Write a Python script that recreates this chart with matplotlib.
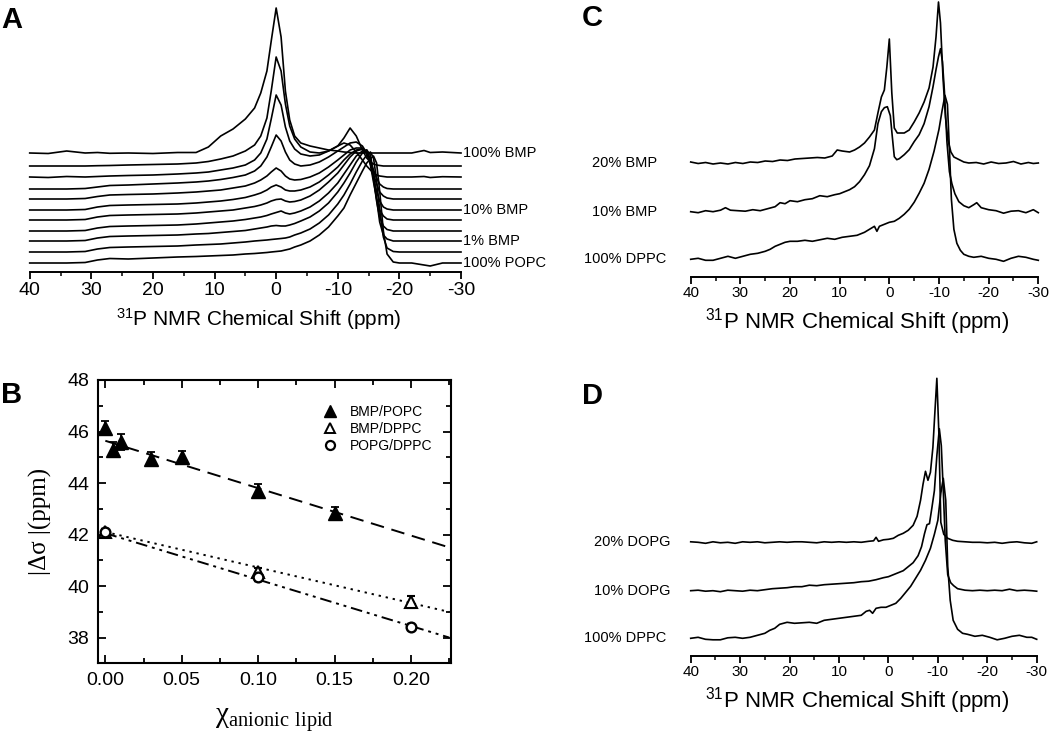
import numpy as np
import matplotlib.pyplot as plt
import matplotlib.transforms as mtransforms
from matplotlib.ticker import MultipleLocator, FormatStrFormatter
from matplotlib.lines import Line2D

plt.rcParams['font.family'] = ['Liberation Sans', 'DejaVu Sans']
plt.rcParams['axes.unicode_minus'] = False

# ---------------- Panel A: BMP/POPC spectra (height above own baseline) ----------------
a_ppm = [40, 37, 34, 31, 29, 27, 24, 20, 16, 13,
         11, 9, 7, 5, 3.5, 2.5, 1.5, 0.8, 0, -0.8,
         -1.5, -2.2, -3, -4, -5.5, -7, -8.5, -10, -11, -12,
         -13, -14, -14.7, -15.3, -15.8, -16.3, -16.8, -17.4, -18, -19,
         -20, -22, -24, -25, -27, -30]

a_bmp100 = [0, -0.5, 2, 0, 0.5, -0.3, 0, -0.5, 0.5, 0.5,
            6, 17, 24, 34, 45, 60, 82, 112, 145, 116,
            62, 33, 17, 10, 7, 5, 3, 2, 1, 0.5,
            0, 0, 0, 0, 0, 0, 0, 0, 0, 0,
            0, 0, 2.5, 0.5, 1, 0]
a_t1 = [0, 0, 0, 0, 0.3, 0.5, 1, 1.5, 2, 3,
        4.5, 7, 10, 15, 21, 30, 48, 75, 109, 95,
        62, 40, 27, 19, 14, 13, 15, 20, 28, 38,
        30, 16, 8, 4, 2, 1, 0.5, 0, 0, 0,
        0, 0, 0, 0, 0, 0]
a_t2 = [0, -0.5, 0.5, 0, 0.5, 1, 1.5, 2, 3, 4,
        5, 7, 9, 12, 17, 24, 38, 58, 82, 72,
        50, 36, 28, 23, 21, 22, 26, 31, 34, 32,
        25, 17, 11, 7, 4, 2, 1, 0.5, 0, 0,
        0, 0, 0.5, -0.5, 0.3, 0]
a_t3 = [0, 0, 0, 0.5, 2, 3.5, 4, 5, 6, 7,
        8, 9.5, 11.5, 14, 18, 23, 32, 42, 54, 48,
        37, 29, 25, 23, 24, 27, 32, 38, 42, 46,
        47, 43, 36, 27, 19, 11, 5, 2, 0.5, 0,
        0, 0, 0, 0, 0, 0]
a_t4 = [0, 0, 0, 0.5, 2.5, 4, 4.5, 5, 6, 7,
        8, 9, 11, 13, 16, 19, 23, 27, 31, 28,
        23, 20, 19, 19.5, 22, 26, 32, 39, 44, 49,
        51, 51, 46, 36, 25, 15, 7, 3, 1, 0,
        0, 0, 0, 0, 0, 0]
a_bmp10 = [0, 0, 0, 0.5, 3, 4.5, 5, 5.5, 6, 7,
           8, 9, 10.5, 12.5, 15, 17, 20, 23, 25, 23,
           20, 19, 19, 20, 23, 28, 35, 43, 50, 56,
           60, 61, 58, 46, 32, 19, 9, 3, 1, 0,
           0, 0, 0, 0, 0, 0]
a_t6 = [0, 0, 0, 0.5, 3, 4.5, 5, 5.5, 6, 7,
        8, 9, 10, 12, 13.5, 15, 17, 19, 20.5, 21,
        19, 18, 18.5, 20, 24, 30, 38, 47, 55, 63,
        69, 71, 68, 55, 38, 22, 10, 4, 1, 0,
        0, 0, 0, 0, 0, 0]
a_t7 = [0, 0, 0, 0.5, 3, 4.5, 5, 5.5, 6, 7,
        8, 9, 10, 11.5, 13, 14, 15.5, 17, 18.5, 20,
        18, 17, 18, 20, 24, 30, 38, 48, 57, 66,
        75, 80, 81, 72, 52, 30, 14, 5, 1.5, 0,
        0, 0, 0, 0, 0, 0]
a_bmp1 = [0, 0, 0, 0.5, 3, 4.5, 5, 5.5, 6, 7,
          7.5, 8.5, 9.5, 10.5, 12, 13, 14, 15, 15.5, 15,
          15, 16, 17.5, 20, 24, 30, 38, 49, 58, 68,
          79, 88, 91, 86, 68, 42, 19, 6, 2, 0,
          0, 0, 0, 0, 0, 0]
a_t9 = [0, 0, 0, 0.5, 3, 4.5, 5, 5.5, 6, 7,
        7.5, 8, 9, 10, 11, 11.5, 12, 12.5, 13, 13.5,
        14, 15, 17, 19, 23, 29, 37, 48, 57, 68,
        80, 91, 97, 100, 94, 72, 42, 15, 4, 0.5,
        0, 0, 0, 0, 0, 0]
a_popc100 = [0, 0, 0, 0.5, 3, 4.5, 4, 5, 6, 6.5,
             7, 7.5, 8, 9, 9.5, 10, 10.5, 11, 11.5, 12,
             13, 14, 16, 18, 22, 28, 36, 47, 55, 68,
             80, 92, 100, 104, 107, 100, 72, 32, 9, 1,
             0, 0, -2, -3, 0, 0]
a_labels = ['100% BMP', '', '', '', '', '10% BMP', '', '', '1% BMP', '', '100% POPC']

# ---------------- Panel B: |delta sigma| vs mole fraction ----------------
popc_x = [0.0, 0.005, 0.01, 0.03, 0.05, 0.10, 0.15]
popc_y = [46.15, 45.3, 45.6, 44.95, 45.0, 43.68, 42.82]
popc_err = [0.25, 0.3, 0.3, 0.25, 0.25, 0.28, 0.25]
dppc_x = [0.0, 0.10, 0.20]
dppc_y = [42.1, 40.55, 39.38]
dppc_err = [0.1, 0.15, 0.25]
popg_x = [0.0, 0.10, 0.20]
popg_y = [42.1, 40.35, 38.4]
popg_err = [0.1, 0.15, 0.12]
# fitted lines (intercept, slope)
fit_popc = (45.64, -18.4)
fit_dppc = (42.1, -13.8)
fit_popg = (42.05, -18.0)

# ---------------- Panel C: BMP/DPPC spectra ----------------
c_ppm_20 = [40, 38.5, 37, 35.5, 34, 32.5, 31, 29.5, 28, 26.5,
            25, 23.5, 22, 20.5, 19, 17.5, 16, 14.5, 13, 11.5,
            10.5, 9.5, 8, 7, 6, 5, 4, 3, 2.3, 1.6,
            1.0, 0.5, 0, -0.5, -1.0, -1.6, -2.3, -3, -4, -5,
            -6, -7, -8, -8.8, -9.4, -9.9, -10.3, -10.8, -11.3, -11.8,
            -12.4, -13, -14, -15, -16, -17.5, -19, -20.5, -22, -23.5,
            -25, -26.5, -28, -29, -30]
c_int_20 = [1, -0.5, 0.5, -1, 0, -1, 0.5, -0.5, 1, 0.5,
            2, 1.5, 3, 2.5, 4, 4.5, 5, 5.5, 5, 7,
            13, 12, 11, 13, 16, 20, 26, 33, 50, 66,
            73, 96, 124, 70, 35, 30, 30, 30, 33, 41,
            50, 61, 75, 96, 126, 161, 140, 86, 46, 23,
            11, 6, 3.5, 1, 0, 0.5, -1, 1, -0.5, 0,
            1.5, -1, 0.5, -0.5, 0]
c_ppm_10 = [40, 38.5, 37, 35.5, 34, 33, 32, 30.5, 29, 27.5,
            26, 24.5, 23, 22, 21, 20, 18.5, 17, 15.5, 14,
            12.5, 11, 10, 9, 8, 7, 6, 5, 4, 3,
            2.3, 1.6, 1.0, 0.4, -0.2, -0.6, -1.0, -1.5, -2, -3,
            -4, -5, -6, -7, -8, -8.8, -9.4, -9.9, -10.3, -10.7,
            -11.1, -11.6, -12.1, -12.6, -13.2, -14, -15, -16, -17, -17.6,
            -18.5, -20, -21.5, -23, -24.5, -26, -27.5, -29, -30]
c_int_10 = [0, -1, 1, 0, 1.5, 4, 1.5, 1, 0.5, 2,
            1, 3, 5, 9, 8, 11, 10, 12, 13, 16,
            15, 17, 18, 20, 22, 25, 30, 37, 46, 63,
            88, 100, 104, 105, 96, 75, 55, 52, 53, 57,
            62, 70, 77, 88, 105, 125, 142, 155, 163, 150,
            120, 70, 40, 28, 18, 10, 6, 4, 7, 9,
            4, 2, 1, -1.5, 0.5, 1, -1, 2, -1]
c_ppm_0 = [40, 38.5, 37, 35.5, 34, 32.5, 31, 29.5, 28, 26.5,
           25, 24, 23, 22, 21, 20, 18.5, 17, 15.5, 14,
           12.5, 11, 9.5, 8, 6.5, 5, 4, 3, 2.5, 2,
           1, 0, -1, -2, -3, -4, -5, -6, -7, -8,
           -9, -10, -10.6, -11.2, -11.7, -12.1, -12.5, -13, -13.6, -14.3,
           -15, -16, -17, -18.5, -20, -21.5, -23, -24.5, -26, -27.5,
           -29, -30]
c_int_0 = [0, 1, -1, -1, 1, 3, 1, 3, 5, 6,
           8, 10, 13, 15, 17, 18, 18, 19, 18, 19.5,
           21, 20, 22, 23, 24, 27, 30, 33, 28, 33,
           35, 37, 38, 41, 45, 50, 57, 66, 76, 90,
           108, 130, 148, 164, 155, 110, 60, 30, 16, 9,
           5, 3, 2, 3, 1, 0, -2, 1, 3, 2,
           0, -1]
c_labels = ['20% BMP', '10% BMP', '100% DPPC']

# ---------------- Panel D: DOPG/DPPC spectra ----------------
d_ppm_20 = [40, 38.5, 37, 35.5, 34, 32.5, 31, 29.5, 28, 26.5,
            25, 23.5, 22, 20.5, 19, 17.5, 16, 14.5, 13, 11.5,
            10, 8.5, 7, 5.5, 4, 3, 2.5, 2, 1, 0,
            -1, -2, -3, -4, -5, -5.8, -6.5, -7, -7.5, -8,
            -8.5, -9, -9.4, -9.8, -10.2, -10.6, -11.2, -12, -13, -14,
            -15.5, -17, -18.5, -20, -21.5, -23, -24.5, -26, -27.5, -29, -30]
d_int_20 = [0.5, 0, -1, 0.5, -0.5, 0, -1, 0.5, 0, 0.5,
            -0.5, 0, 0.5, 0, 0.5, 0.5, 0, -0.5, 0.5, 0,
            0.5, 0, 0.5, 0, 1, 1.5, 5, 1, 2.5, 3,
            4, 7, 9, 12, 17, 26, 42, 58, 71, 62,
            70, 95, 130, 164, 110, 20, 8, 4, 2, 1,
            0.5, 0, 0, -0.5, 0, -1, 0, 0.5, -0.5, -1, 0.5]
d_ppm_10 = [40, 38.5, 37, 35.5, 34, 32.5, 31, 29.5, 28, 26.5,
            25, 23.5, 22, 20.5, 19, 17.5, 16, 14.5, 13, 11.5,
            10, 8.5, 7, 5.5, 4, 2.5, 1, 0, -1, -2,
            -3, -4, -5, -6, -6.7, -7.3, -7.8, -8.3, -8.8, -9.3,
            -9.8, -10.3, -10.7, -11.1, -11.5, -12, -12.6, -13.2, -14, -15.5,
            -17, -18.5, -20, -21.5, -23, -24.5, -26, -27.5, -29, -30]
d_int_10 = [0, 0.5, -0.5, 0, -1, 0.5, 0, -0.5, 0.5, 0,
            1, 2, 2.5, 3, 4, 4, 5.5, 5, 6, 6.5,
            7, 7.5, 8, 9, 9.5, 11, 13, 14, 16, 18,
            20, 24, 28, 35, 44, 57, 66, 67, 83, 100,
            135, 162, 145, 100, 50, 16, 8, 5, 2, 0.5,
            0, 0.5, 0, 0.5, 0, 1.5, 0, 0.5, 0, -0.5]
d_ppm_0 = [40, 38.5, 37, 35.5, 34, 32.5, 31, 29.5, 28, 26.5,
           25, 24, 23, 22, 20.5, 19, 17.5, 16, 14.5, 13,
           11.5, 10, 8.5, 7, 5.5, 4.5, 3.8, 3.2, 2.5, 1.5,
           0.5, -0.5, -1.5, -2.5, -3.5, -4.5, -5.5, -6.5, -7.5, -8.5,
           -9.3, -10, -10.6, -11.1, -11.6, -12, -12.5, -13.1, -14, -15,
           -16, -17.5, -19, -20.5, -22, -23.5, -25, -26.5, -28, -29, -30]
d_int_0 = [0, 1, -1, -1.5, -1.5, 0.5, 1, 0, 1, 3,
           5, 8, 10, 14, 16, 15, 15.5, 16, 15, 18,
           19, 20, 21, 22, 23, 27, 28, 25, 30, 31,
           31, 33, 35, 40, 46, 52, 60, 68, 78, 90,
           104, 118, 145, 160, 138, 72, 38, 18, 9, 5,
           4, 2, 3, 1, -1.5, 0, 2, 3, 1, 1, -1]
d_labels = ['20% DOPG', '10% DOPG', '100% DPPC']

# ---------------- layout helpers ----------------
W, H = 1050, 738
fig = plt.figure(figsize=(W / 100, H / 100), dpi=100)
LW = 1.2


def px_axes(left, top, right, bottom):
    return fig.add_axes([left / W, 1 - bottom / H, (right - left) / W, (bottom - top) / H])


def spectrum_axes(ax, ysize, tick_fs, label_fs, labelpad, label_x):
    ax.set_xlim(40, -30)
    ax.set_ylim(0, ysize)
    for s in ['left', 'right', 'top']:
        ax.spines[s].set_visible(False)
    ax.spines['bottom'].set_linewidth(1.4)
    ax.set_yticks([])
    ax.xaxis.set_major_locator(MultipleLocator(10))
    ax.xaxis.set_minor_locator(MultipleLocator(5))
    ax.tick_params(axis='x', which='major', direction='out', length=5, width=1.3,
                   labelsize=tick_fs, pad=2)
    ax.tick_params(axis='x', which='minor', direction='out', length=3, width=1.1)
    ax.set_xlabel(r'$\mathregular{^{31}}$P NMR Chemical Shift (ppm)',
                  fontsize=label_fs, labelpad=labelpad)
    ax.xaxis.label.set_x(label_x)
    ax.patch.set_visible(False)


# ---------------- Panel A ----------------
axa = px_axes(29.7, 0, 461, 272)
spectrum_axes(axa, 272, 14, 15, 5, 0.532)
a_traces = [a_bmp100, a_t1, a_t2, a_t3, a_t4, a_bmp10, a_t6, a_t7, a_bmp1, a_t9, a_popc100]
a_offsets = [119, 106, 95, 83, 73, 62, 52, 41, 31, 20, 9]
for h, off, lab in zip(a_traces, a_offsets, a_labels):
    y = off + np.array(h)
    axa.plot(a_ppm, y, color='k', lw=LW, clip_on=False)
    if lab:
        axa.text(-30.3, y[-1], lab, ha='left', va='center', fontsize=10.5, clip_on=False)

# ---------------- Panel C ----------------
axc = px_axes(690.7, 0, 1038.3, 276.7)
spectrum_axes(axc, 276.7, 11, 16, 4, 0.48)
c_offsets = [113.7, 65, 17.4]
c_tr = mtransforms.blended_transform_factory(fig.transFigure, axc.transData)
for ppm, h, off, lab in zip([c_ppm_20, c_ppm_10, c_ppm_0], [c_int_20, c_int_10, c_int_0],
                            c_offsets, c_labels):
    axc.plot(ppm, off + np.array(h), color='k', lw=LW, clip_on=False)
    axc.text(625 / W, off, lab, transform=c_tr, ha='center', va='center', fontsize=10.5)

# ---------------- Panel D ----------------
axd = px_axes(690.7, 370, 1036.7, 655.7)
spectrum_axes(axd, 285.7, 11, 16, 4, 0.48)
d_offsets = [113.4, 65, 17.4]
d_label_x = [632, 632, 625]
d_tr = mtransforms.blended_transform_factory(fig.transFigure, axd.transData)
for ppm, h, off, lab, lx in zip([d_ppm_20, d_ppm_10, d_ppm_0], [d_int_20, d_int_10, d_int_0],
                                d_offsets, d_labels, d_label_x):
    axd.plot(ppm, off + np.array(h), color='k', lw=LW, clip_on=False)
    axd.text(lx / W, off, lab, transform=d_tr, ha='center', va='center', fontsize=10.5)

# ---------------- Panel B ----------------
axb = px_axes(97.7, 380, 450.7, 663.3)
axb.set_xlim(-0.005, 0.226)
axb.set_ylim(37, 48)

xf = np.array([0.0, 0.225])
axb.plot(xf, fit_popc[0] + fit_popc[1] * xf, color='k', lw=1.4, ls=(0, (7, 4)))
axb.plot(xf, fit_dppc[0] + fit_dppc[1] * xf, color='k', lw=1.4, ls=(0, (1.2, 2.5)))
axb.plot(xf, fit_popg[0] + fit_popg[1] * xf, color='k', lw=1.4,
         ls=(0, (6, 2.5, 1.5, 2.5, 1.5, 2.5)))

eb = dict(color='k', capsize=3, elinewidth=1.3, capthick=1.3, ls='none')
axb.errorbar(popc_x, popc_y, yerr=popc_err, fmt='^', ms=10, mfc='k', mec='k', **eb)
axb.errorbar(dppc_x, dppc_y, yerr=dppc_err, fmt='^', ms=8.5, mfc='white', mec='k', mew=1.5, **eb)
axb.errorbar(popg_x, popg_y, yerr=popg_err, fmt='o', ms=7, mfc='white', mec='k', mew=1.7, **eb)

axb.xaxis.set_major_locator(MultipleLocator(0.05))
axb.xaxis.set_minor_locator(MultipleLocator(0.025))
axb.xaxis.set_major_formatter(FormatStrFormatter('%.2f'))
axb.yaxis.set_major_locator(MultipleLocator(2))
axb.yaxis.set_minor_locator(MultipleLocator(1))
axb.tick_params(which='both', direction='in', top=True, right=True, labelsize=14, width=1.3)
axb.tick_params(which='major', length=6, pad=6)
axb.tick_params(which='minor', length=3.5)
for s in axb.spines.values():
    s.set_linewidth(1.5)

axb.set_ylabel('|Δσ |(ppm)', family=['Liberation Serif', 'DejaVu Serif'], fontsize=18)
axb.yaxis.set_label_coords(-0.13, 0.5)
axb.set_xlabel(r'$\mathregular{\chi_{anionic\ lipid}}$',
               family=['Liberation Serif', 'DejaVu Serif'], fontsize=21)
axb.xaxis.set_label_coords(0.5, -0.15)

handles = [
    Line2D([], [], ls='none', marker='^', ms=8.5, mfc='k', mec='k'),
    Line2D([], [], ls='none', marker='^', ms=7.5, mfc='white', mec='k', mew=1.4),
    Line2D([], [], ls='none', marker='o', ms=6.5, mfc='white', mec='k', mew=1.6),
]
axb.legend(handles, ['BMP/POPC', 'BMP/DPPC', 'POPG/DPPC'], loc='upper left',
           bbox_to_anchor=(0.62, 0.935), frameon=False, fontsize=10,
           handlelength=1.0, handletextpad=0.9, labelspacing=0.2, borderpad=0)

# ---------------- Panel letters ----------------
for lab, x, y in [('A', 1, 28), ('B', 1, 403), ('C', 582, 26), ('D', 582, 404)]:
    fig.text(x / W, 1 - y / H, lab, fontsize=21, fontweight='bold', va='baseline')

fig.savefig('out.png', dpi=100)
